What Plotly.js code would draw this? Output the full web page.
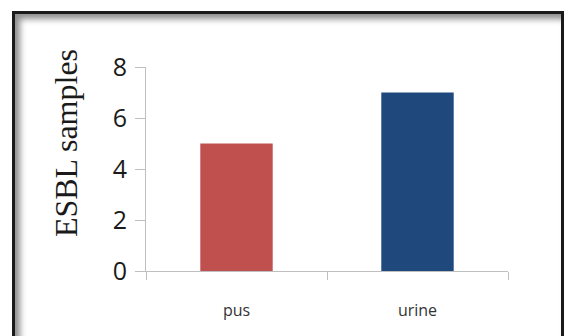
<!DOCTYPE html>
<html>
<head>
<meta charset="utf-8">
<script src="https://cdn.plot.ly/plotly-3.0.1.min.js"></script>
<style>
  html, body { margin: 0; padding: 0; background: #ffffff; }
  #wrap { position: relative; width: 566px; height: 336px; overflow: hidden; }
  #frame { position: absolute; left: 12px; top: 11px; width: 546px; height: 330px;
           border: 3px solid #1a1a1a; box-shadow: inset 5px 5px 6px rgba(0,0,0,0.45); }
  #chart { position: absolute; left: 0; top: 0; width: 566px; height: 336px; }
</style>
</head>
<body>
<div id="wrap">
  <div id="frame"></div>
  <div id="chart"></div>
</div>
<script>
const categories = ["pus", "urine"];
const values = [5, 7];
const barColors = ["#C0504D", "#1F497D"];
const yTicks = [0, 2, 4, 6, 8];
const yTitle = "ESBL samples";

Plotly.newPlot("chart", [{
  type: "bar",
  x: categories,
  y: values,
  marker: { color: barColors, line: { width: 0 } },
  hoverinfo: "none"
}], {
  width: 566,
  height: 336,
  margin: { l: 146, r: 58, t: 67, b: 65 },
  paper_bgcolor: "rgba(0,0,0,0)",
  plot_bgcolor: "rgba(0,0,0,0)",
  bargap: 0.6,
  showlegend: false,
  xaxis: {
    type: "category",
    showline: true,
    linecolor: "#BFBFBF",
    linewidth: 1,
    ticks: "outside",
    tickson: "boundaries",
    ticklen: 8,
    tickcolor: "#BFBFBF",
    showgrid: false,
    zeroline: false,
    ticklabelstandoff: 25,
    tickfont: { family: "Open Sans, sans-serif", size: 16, color: "#333333" }
  },
  yaxis: {
    range: [0, 8],
    tickvals: yTicks,
    showline: true,
    linecolor: "#BFBFBF",
    linewidth: 1,
    ticks: "outside",
    ticklen: 10,
    tickcolor: "#BFBFBF",
    showgrid: false,
    zeroline: false,
    ticklabelstandoff: 3,
    tickfont: { family: "Open Sans, sans-serif", size: 25, color: "#1a1a1a" }
  },
  annotations: [{
    text: yTitle,
    xref: "paper", yref: "paper",
    x: -0.221, y: 0.627,
    xanchor: "center", yanchor: "middle",
    textangle: -90,
    showarrow: false,
    font: { family: "Liberation Serif, Times New Roman, serif", size: 32, color: "#1a1a1a" }
  }]
}, { displayModeBar: false, staticPlot: true });
</script>
</body>
</html>
